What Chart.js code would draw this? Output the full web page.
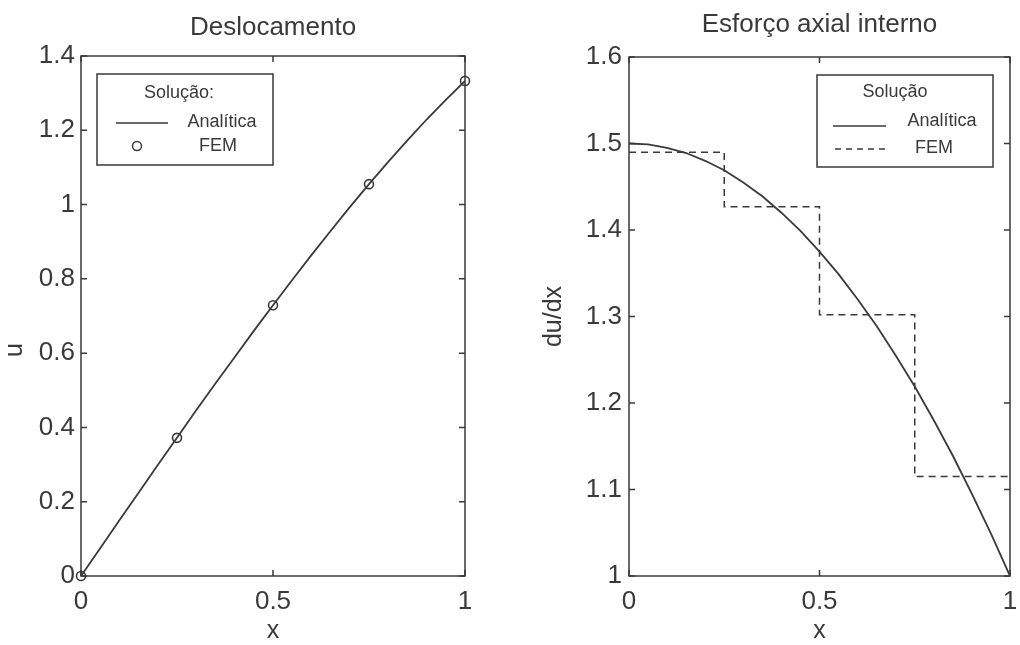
<!DOCTYPE html>
<html>
<head>
<meta charset="utf-8">
<script src="https://cdn.jsdelivr.net/npm/chart.js@4/dist/chart.umd.min.js"></script>
<style>
  body { margin: 0; background: #fff; }
  #wrap { position: relative; width: 1020px; height: 645px; }
  canvas { position: absolute; top: 0; }
</style>
</head>
<body>
<div id="wrap">
  <canvas id="desloc" width="510" height="645" style="left:0"></canvas>
  <canvas id="esforco" width="510" height="645" style="left:510px"></canvas>
</div>
<script>
// dados
const xAnalitica = [0, 0.05, 0.1, 0.15, 0.2, 0.25, 0.3, 0.35, 0.4, 0.45, 0.5,
  0.55, 0.6, 0.65, 0.7, 0.75, 0.8, 0.85, 0.9, 0.95, 1];
const uAnalitica = [0, 0.075, 0.150, 0.224, 0.299, 0.372, 0.446, 0.518, 0.589, 0.660, 0.729,
  0.797, 0.864, 0.929, 0.993, 1.055, 1.115, 1.173, 1.229, 1.282, 1.333];
const dudxAnalitica = [1.500, 1.499, 1.495, 1.489, 1.480, 1.469, 1.455, 1.439, 1.420, 1.399, 1.375,
  1.349, 1.320, 1.289, 1.255, 1.219, 1.180, 1.139, 1.095, 1.049, 1.000];

const xFem = [0, 0.25, 0.5, 0.75, 1];
const uFem = [0, 0.372, 0.729, 1.055, 1.333];
const dudxFem = [1.490, 1.427, 1.302, 1.115, 1.115]; // constante por elemento

const COR = '#3a3a3a';
const FONTE = "'Liberation Sans', Arial, sans-serif";

Chart.defaults.font.family = FONTE;
Chart.defaults.color = COR;
Chart.defaults.animation = false;

const pares = (xs, ys) => xs.map((x, i) => ({ x: x, y: ys[i] }));
const rotulo = (v) => String(Math.round(v * 10) / 10);

// caixa estilo MATLAB, ticks para dentro, legenda e rótulo extra
const caixaPlugin = {
  id: 'caixa',
  afterDraw(chart, args, opts) {
    const { ctx, chartArea: a, scales } = chart;
    ctx.save();
    ctx.strokeStyle = COR;
    ctx.lineWidth = 1.5;
    ctx.strokeRect(a.left, a.top, a.right - a.left, a.bottom - a.top);

    const len = 6;
    ctx.beginPath();
    scales.x.ticks.forEach((t) => {
      const px = scales.x.getPixelForValue(t.value);
      ctx.moveTo(px, a.bottom); ctx.lineTo(px, a.bottom - len);
      ctx.moveTo(px, a.top); ctx.lineTo(px, a.top + len);
    });
    scales.y.ticks.forEach((t) => {
      const py = scales.y.getPixelForValue(t.value);
      ctx.moveTo(a.left, py); ctx.lineTo(a.left + len, py);
      ctx.moveTo(a.right, py); ctx.lineTo(a.right - len, py);
    });
    ctx.stroke();

    // legenda
    const lg = opts.legenda;
    if (lg) {
      ctx.lineWidth = 1.5;
      ctx.strokeRect(lg.x, lg.y, lg.w, lg.h);
      ctx.fillStyle = COR;
      ctx.font = '18px ' + FONTE;
      ctx.textAlign = 'center';
      ctx.textBaseline = 'middle';
      ctx.fillText(lg.titulo, lg.tituloX, lg.tituloY);
      lg.itens.forEach((it) => {
        ctx.fillText(it.texto, it.textoX, it.textoY);
        ctx.beginPath();
        if (it.tipo === 'circulo') {
          ctx.arc(it.x1, it.y, 4.5, 0, Math.PI * 2);
          ctx.stroke();
        } else {
          ctx.setLineDash(it.tipo === 'tracejado' ? [6, 5] : []);
          ctx.moveTo(it.x1, it.y);
          ctx.lineTo(it.x2, it.y);
          ctx.stroke();
          ctx.setLineDash([]);
        }
      });
    }

    // rótulo do eixo y desenhado à mão (posição fora do centro no original)
    const yt = opts.tituloY;
    if (yt) {
      ctx.translate(yt.x, yt.y);
      ctx.rotate(-Math.PI / 2);
      ctx.font = '25px ' + FONTE;
      ctx.fillStyle = COR;
      ctx.textAlign = 'center';
      ctx.textBaseline = 'middle';
      ctx.fillText(yt.texto, 0, 0);
    }
    ctx.restore();
  }
};

function eixoX() {
  return {
    type: 'linear',
    min: 0,
    max: 1,
    grid: { display: false, drawTicks: false },
    border: { display: false },
    ticks: { stepSize: 0.5, padding: 10, maxRotation: 0, font: { size: 26 }, callback: rotulo },
    title: { display: true, text: 'x', font: { size: 25, lineHeight: 1 }, padding: { top: 0, bottom: 1 } },
    afterFit: (s) => {
      s.height = 69;
      // sem espaço extra para os rótulos das pontas; o layout.padding decide
      s.paddingLeft = 0;
      s.paddingRight = 0;
    },
  };
}

// Deslocamento
new Chart(document.getElementById('desloc'), {
  type: 'line',
  data: {
    datasets: [
      {
        label: 'Analítica',
        data: pares(xAnalitica, uAnalitica),
        borderColor: COR,
        borderWidth: 1.8,
        pointRadius: 0,
        tension: 0,
      },
      {
        label: 'FEM',
        data: pares(xFem, uFem),
        showLine: false,
        borderColor: COR,
        pointRadius: 4.5,
        pointBorderWidth: 1.6,
        pointBorderColor: COR,
        pointBackgroundColor: 'rgba(0,0,0,0)',
        clip: false,
      },
    ],
  },
  options: {
    responsive: false,
    devicePixelRatio: 1,
    layout: { padding: { left: 0, right: 45, top: 0, bottom: 0 } },
    scales: {
      x: eixoX(),
      y: {
        type: 'linear',
        min: 0,
        max: 1.4,
        grid: { display: false, drawTicks: false },
        border: { display: false },
        ticks: { stepSize: 0.2, padding: 6, font: { size: 26 }, callback: rotulo },
        afterFit: (s) => { s.width = 81; },
      },
    },
    plugins: {
      legend: { display: false },
      tooltip: { enabled: false },
      title: {
        display: true,
        text: 'Deslocamento',
        fullSize: false,
        color: COR,
        font: { size: 26, weight: 'normal', lineHeight: 1 },
        padding: { top: 15, bottom: 15 },
      },
      caixa: {
        tituloY: { texto: 'u', x: 15, y: 350 },
        legenda: {
          x: 97, y: 74, w: 176, h: 91,
          titulo: 'Solução:', tituloX: 179, tituloY: 93,
          itens: [
            { tipo: 'linha', x1: 116, x2: 168, y: 123, texto: 'Analítica', textoX: 222, textoY: 122 },
            { tipo: 'circulo', x1: 137, y: 146, texto: 'FEM', textoX: 218, textoY: 146 },
          ],
        },
      },
    },
  },
  plugins: [caixaPlugin],
});

// Esforço axial interno
new Chart(document.getElementById('esforco'), {
  type: 'line',
  data: {
    datasets: [
      {
        label: 'Analítica',
        data: pares(xAnalitica, dudxAnalitica),
        borderColor: COR,
        borderWidth: 1.8,
        pointRadius: 0,
        tension: 0,
      },
      {
        label: 'FEM',
        data: pares(xFem, dudxFem),
        stepped: 'before',
        borderColor: COR,
        borderWidth: 1.5,
        borderDash: [7, 5],
        pointRadius: 0,
      },
    ],
  },
  options: {
    responsive: false,
    devicePixelRatio: 1,
    layout: { padding: { left: 0, right: 10, top: 0, bottom: 0 } },
    scales: {
      x: eixoX(),
      y: {
        type: 'linear',
        min: 1,
        max: 1.6,
        grid: { display: false, drawTicks: false },
        border: { display: false },
        ticks: { stepSize: 0.1, padding: 7, font: { size: 26 }, callback: rotulo },
        title: { display: true, text: 'du/dx', font: { size: 25, lineHeight: 1 }, padding: { top: 32, bottom: 0 } },
        afterFit: (s) => { s.width = 119; },
      },
    },
    plugins: {
      legend: { display: false },
      tooltip: { enabled: false },
      title: {
        display: true,
        text: 'Esforço axial interno',
        fullSize: false,
        color: COR,
        font: { size: 26, weight: 'normal', lineHeight: 1 },
        padding: { top: 12, bottom: 19 },
      },
      caixa: {
        legenda: {
          x: 307, y: 75, w: 176, h: 92,
          titulo: 'Solução', tituloX: 385, tituloY: 92,
          itens: [
            { tipo: 'linha', x1: 323, x2: 376, y: 126, texto: 'Analítica', textoX: 432, textoY: 121 },
            { tipo: 'tracejado', x1: 325, x2: 377, y: 149, texto: 'FEM', textoX: 424, textoY: 148 },
          ],
        },
      },
    },
  },
  plugins: [caixaPlugin],
});
</script>
</body>
</html>
